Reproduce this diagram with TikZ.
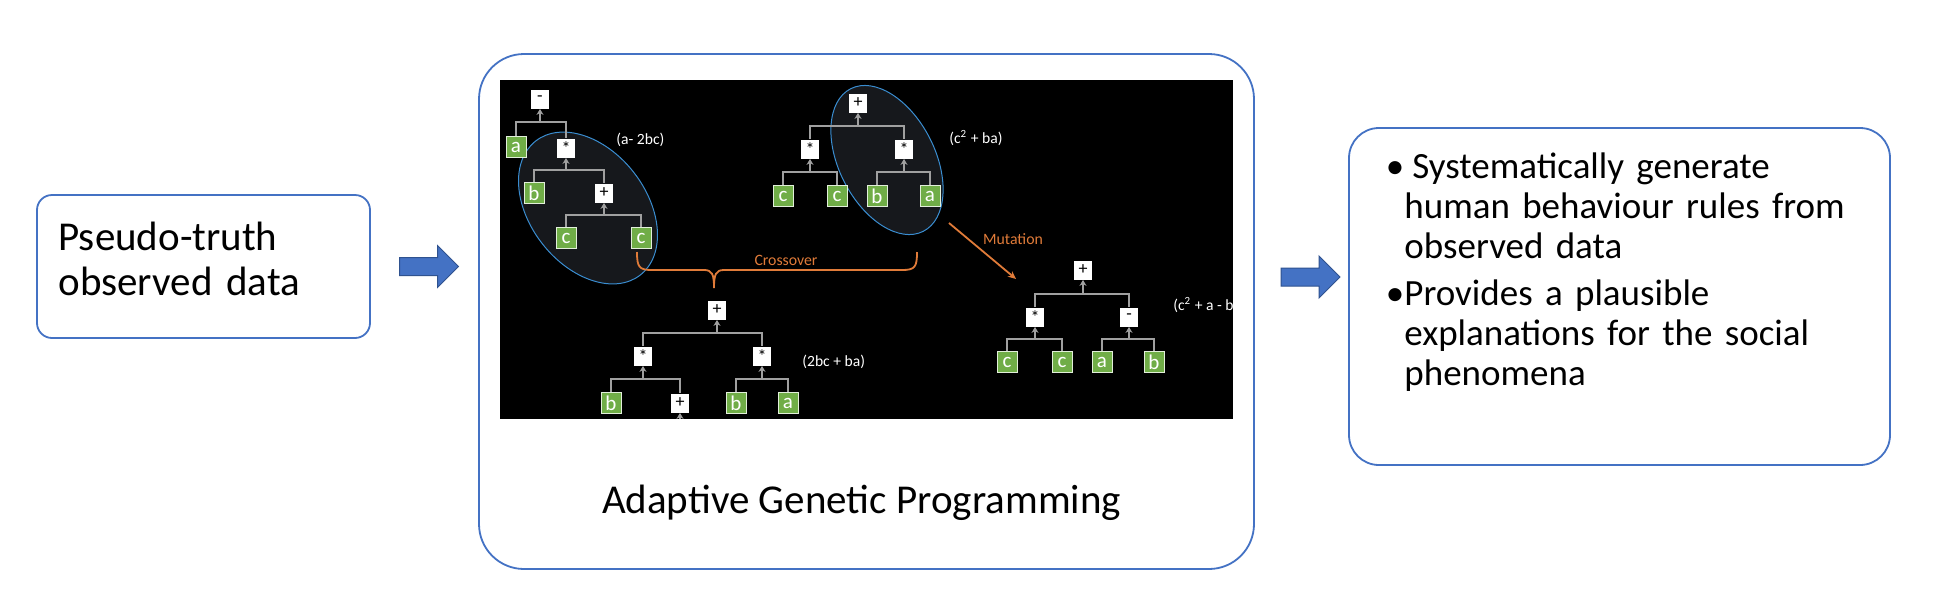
\documentclass[tikz,border=0pt]{standalone}
\usepackage{fontspec}
\setmainfont{Carlito}
\usetikzlibrary{positioning,calc,shapes.arrows,arrows.meta}

\definecolor{boxblue}{HTML}{4472C4}
\definecolor{arrowedge}{HTML}{2F528F}
\definecolor{leafgreen}{HTML}{70AD47}
\definecolor{linkgray}{HTML}{A0A0A0}
\definecolor{xorange}{HTML}{E07B39}
\definecolor{ringblue}{HTML}{3A8DD0}
\definecolor{ringfill}{HTML}{16181C}

\tikzset{
    panel/.style={draw=boxblue, line width=0.9pt, rounded corners=#1, inner sep=0pt},
    bigtext/.style={inner sep=0pt, font=\fontsize{20.5}{22.5}\selectfont},
    listtext/.style={inner sep=0pt, text width=240pt, align=left, font=\fontsize{18.5}{20}\selectfont},
    blockarrow/.style={single arrow, fill=boxblue, draw=arrowedge, line width=0.5pt,
        minimum height=29.5pt, single arrow head extend=6pt, inner xsep=0pt, inner ysep=4.25pt,
        text height=0pt, text depth=0pt},
    op/.style={fill=white, minimum width=9pt, minimum height=9.5pt, inner sep=0pt,
        font=\fontsize{9}{9}\selectfont},
    leaf/.style={fill=leafgreen, draw=white!80!leafgreen, line width=0.5pt, text=white,
        minimum width=10pt, minimum height=10.5pt, inner sep=0pt, font=\fontsize{10.5}{10.5}\selectfont},
    link/.style={draw=linkgray, line width=1pt},
    ring/.style={draw=ringblue, line width=0.5pt, fill=ringfill},
    formula/.style={text=white, anchor=west, inner sep=0pt, font=\fontsize{7.8}{8}\selectfont},
    cross/.style={draw=xorange, line width=0.9pt},
    crosslabel/.style={text=xorange, inner sep=0pt, font=\fontsize{7.9}{8}\selectfont}
}

% bar under a parent, arrow up into it
\newcommand{\branch}[3]{%
    \draw[link] (#2.north) |- ($(#1.south)!.5!(#1.south |- #2.north)$) -| (#3.north);
    \draw[link, -{Stealth[length=3pt, width=3.5pt]}] ($(#1.south)!.5!(#1.south |- #2.north)$) -- (#1.south);}

\begin{document}
\begin{tikzpicture}[x=0.5pt, y=-0.5pt]
    % canvas
    \fill[white] (0,0) rectangle (1934,590);
    \useasboundingbox (0,0) rectangle (1934,590);
    % three boxes
    \node[panel=7.5pt, minimum width=166.5pt, minimum height=71.5pt] (src) at (203.5,266.5) {};
    \node[panel=22.5pt, minimum width=387.5pt, minimum height=257.5pt] (agp) at (866.5,311.5) {};
    \node[panel=15pt, minimum width=270.5pt, minimum height=168.5pt] (out) at (1619.5,296.5) {};
    % texts
    \node[bigtext, text width=160pt, align=left, anchor=base west] (srctext) at (58,250) {Pseudo-truth\\observed data};
    \node[bigtext, anchor=base] (agptext) at (861.5,513) {Adaptive Genetic Programming};
    \node[listtext, anchor=base west] (item1) at (1404,178)
        {\llap{\textbullet}\hspace{4pt}Systematically generate\\human behaviour rules from\\observed data};
    \node[listtext, anchor=base west] (item2) at (1404,305)
        {\llap{\textbullet}Provides a plausible\\explanations for the social\\phenomena};
    % block arrows
    \node[blockarrow] (arr1) at ($(src.east)!.5!(src.east -| agp.west)$) {};
    \node[blockarrow] (arr2) at (1306,277) {};

    % screenshot of the trees
    \node[fill=black, minimum width=366.5pt, minimum height=169.5pt, inner sep=0pt] (shot) at (866.5,249.5) {};
    \begin{scope}
        \clip (shot.south west) rectangle (shot.north east);
        % rings round the swapped parts
        \draw[ring, rotate around={-52:(588,208)}] (588,208) ellipse [x radius=85, y radius=58];
        \draw[ring, rotate around={-63:(887,160)}] (887,160) ellipse [x radius=80, y radius=48];

        % first parent
        \node[op] (a0) at (540,99) {-};
        \node[leaf] (aa) at (516,147) {a};
        \node[op] (a1) at (566,148) {*};
        \node[leaf] (ab) at (534,193) {b};
        \node[op] (a2) at (604,193) {+};
        \node[leaf] (ac1) at (566,238) {c};
        \node[leaf] (ac2) at (641,238) {c};
        \branch{a0}{aa}{a1}
        \branch{a1}{ab}{a2}
        \branch{a2}{ac1}{ac2}
        \node[formula] (fa) at (616,140) {(a- 2bc)};

        % second parent
        \node[op] (b0) at (858,103) {+};
        \node[op] (b1) at (810,149) {*};
        \node[op] (b2) at (904,149) {*};
        \node[leaf] (bc1) at (783,196) {c};
        \node[leaf] (bc2) at (837,196) {c};
        \node[leaf] (bb) at (877,196) {b};
        \node[leaf] (ba) at (930,196) {a};
        \branch{b0}{b1}{b2}
        \branch{b1}{bc1}{bc2}
        \branch{b2}{bb}{ba}
        \node[formula] (fb) at (949,138) {(c\textsuperscript{2} + ba)};

        % crossover child
        \node[op] (c0) at (717,310) {+};
        \node[op] (c1) at (643,356) {*};
        \node[op] (c2) at (762,356) {*};
        \node[leaf] (cb) at (611,403) {b};
        \node[op] (c3) at (680,403) {+};
        \node[leaf] (cb2) at (736,403) {b};
        \node[leaf] (ca) at (788,403) {a};
        \branch{c0}{c1}{c2}
        \branch{c1}{cb}{c3}
        \branch{c2}{cb2}{ca}
        \draw[link, -{Stealth[length=3pt, width=3.5pt]}] (c3.south |- shot.south) -- (c3.south);
        \node[formula] (fc) at (802,362) {(2bc + ba)};

        % mutated child
        \node[op] (d0) at (1083,270) {+};
        \node[op] (d1) at (1035,317) {*};
        \node[op] (d2) at (1129,317) {-};
        \node[leaf] (dc1) at (1007,362) {c};
        \node[leaf] (dc2) at (1062,362) {c};
        \node[leaf] (da) at (1102,362) {a};
        \node[leaf] (db) at (1154,362) {b};
        \branch{d0}{d1}{d2}
        \branch{d1}{dc1}{dc2}
        \branch{d2}{da}{db}
        \node[formula] (fd) at (1173,305) {(c\textsuperscript{2} + a - b};

        % crossover brace and mutation arrow
        \draw[cross] (637,252) .. controls (637,267) and (639,270) .. (652,270) -- (704,270)
            .. controls (712,270) and (714,274) .. (714,288)
            .. controls (714,274) and (716,270) .. (724,270) -- (902,270)
            .. controls (915,270) and (917,267) .. (917,252);
        \node[crosslabel] (xlabel) at (786,260) {Crossover};
        \coordinate (mutfrom) at (949,223);
        \coordinate (mutto) at (1016,279);
        \draw[cross, -{Stealth[length=4pt, width=3.5pt]}] (mutfrom) -- (mutto);
        \node[crosslabel] (mlabel) at (1013,239) {Mutation};
    \end{scope}
\end{tikzpicture}
\end{document}
